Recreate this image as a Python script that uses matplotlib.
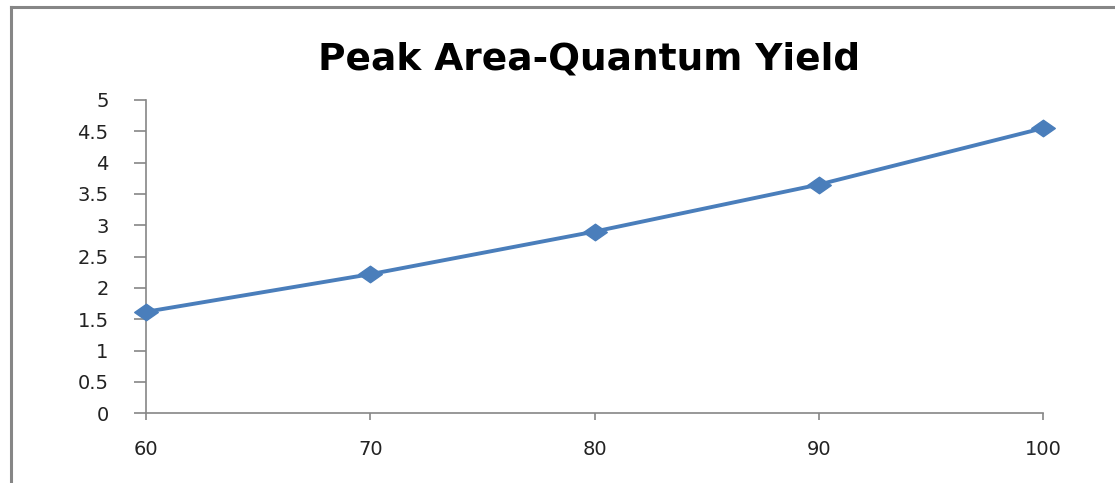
import matplotlib
matplotlib.use("Agg")
import matplotlib.pyplot as plt
from matplotlib.path import Path
from matplotlib.lines import Line2D

# Data
concentration = [60, 70, 80, 90, 100]
quantum_yield = [1.62, 2.22, 2.90, 3.65, 4.55]
x_ticks = [60, 70, 80, 90, 100]
y_ticks = [0, 0.5, 1, 1.5, 2, 2.5, 3, 3.5, 4, 4.5, 5]
y_tick_labels = ["0", "0.5", "1", "1.5", "2", "2.5", "3", "3.5", "4", "4.5", "5"]
title = "Peak Area-Quantum Yield"

line_color = "#4a7ebb"
axis_color = "#868686"

fig = plt.figure(figsize=(11.15, 4.83), dpi=100)
ax = fig.add_axes([0.131, 0.1443, 0.8044, 0.6487])

# wide diamond marker
diamond = Path([(-1.0, 0.0), (0.0, 0.7), (1.0, 0.0), (0.0, -0.7), (-1.0, 0.0)],
               [Path.MOVETO, Path.LINETO, Path.LINETO, Path.LINETO, Path.CLOSEPOLY])

ax.plot(concentration, quantum_yield, color=line_color, linewidth=2.8,
        marker=diamond, markersize=17, markerfacecolor=line_color,
        markeredgecolor=line_color, clip_on=False, zorder=3)

ax.set_xlim(60, 100)
ax.set_ylim(0, 5)
ax.set_xticks(x_ticks)
ax.set_xticklabels([str(v) for v in x_ticks])
ax.set_yticks(y_ticks)
ax.set_yticklabels(y_tick_labels)

for side in ("top", "right"):
    ax.spines[side].set_visible(False)
for side in ("left", "bottom"):
    ax.spines[side].set_color(axis_color)
    ax.spines[side].set_linewidth(1.2)

ax.tick_params(axis="y", direction="out", length=9, width=1.2, color=axis_color,
               pad=18, labelsize=14, labelcolor="#222222")
ax.tick_params(axis="x", direction="out", length=5, width=1.2, color=axis_color,
               pad=14, labelsize=14, labelcolor="#222222")

fig.text(0.528, 0.876, title, ha="center", va="center", fontsize=27,
         fontweight="bold", color="black")

# chart frame (left and top edges)
fig.add_artist(Line2D([0.0095, 0.0095], [0.0, 0.986], transform=fig.transFigure,
                      color=axis_color, linewidth=2.2))
fig.add_artist(Line2D([0.0095, 1.0], [0.986, 0.986], transform=fig.transFigure,
                      color=axis_color, linewidth=2.2))

fig.savefig("out.png", dpi=100)
